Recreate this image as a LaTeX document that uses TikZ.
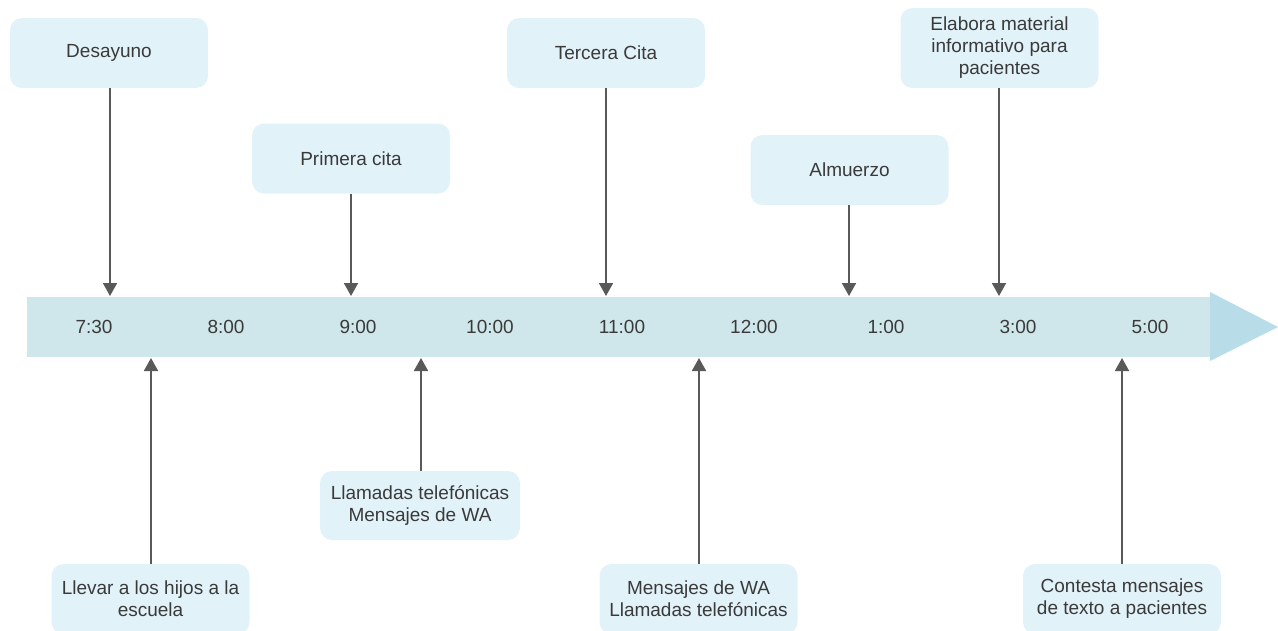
\documentclass[tikz,border=0pt]{standalone}
\usepackage{fontspec}
\setmainfont{Liberation Sans}
\usetikzlibrary{arrows.meta}
\definecolor{barcol}{HTML}{CFE7EA}
\definecolor{headcol}{HTML}{B8DDE8}
\definecolor{boxcol}{HTML}{E2F2F9}
\definecolor{txtcol}{HTML}{3A3A3A}
\definecolor{linecol}{HTML}{595959}
\tikzset{
  event/.style={rounded corners=12pt, fill=boxcol, text=txtcol, align=center,
    minimum width=198pt, minimum height=70pt, inner sep=0pt,
    font=\fontsize{19}{22}\selectfont},
  hour/.style={text=txtcol, font=\fontsize{19}{22}\selectfont},
  link/.style={draw=linecol, line width=1.8pt, -{Triangle[length=13pt,width=14pt]}}
}

\begin{document}
\begin{tikzpicture}[x=1pt,y=-1pt]
        \useasboundingbox (0,0) rectangle (1278,630);
        % bar
        \fill[barcol] (27,297) rectangle (1210,357);
        \fill[headcol] (1210,292) -- (1278,327) -- (1210,361) -- cycle;
        % hours
        \foreach \t [count=\i from 0] in {7:30,8:00,9:00,10:00,11:00,12:00,1:00,3:00,5:00}
            \node[hour] (h\i) at (94+132*\i,327) {\t};
        % top events
        \node[event] (desayuno) at (109,53) {Desayuno};
        \node[event] (primera) at (351,158.5) {Primera cita};
        \node[event] (tercera) at (606,53) {Tercera Cita};
        \node[event] (almuerzo) at (849.5,170) {Almuerzo};
        \node[event, minimum height=80pt] (elabora) at (999.5,48) {Elabora material\\informativo para\\pacientes};
        % bottom events
        \node[event] (llevar) at (150.5,599) {Llevar a los hijos a la\\escuela};
        \node[event, minimum width=200pt, minimum height=69pt] (llamadas) at (420,505.5) {Llamadas telefónicas\\Mensajes de WA};
        \node[event] (mensajes) at (698.5,599) {Mensajes de WA\\Llamadas telefónicas};
        \node[event] (contesta) at (1122,599) {Contesta mensajes\\de texto a pacientes};
        % points on the bar
        \coordinate (pdesayuno) at (110,296);
        \coordinate (pprimera) at (351,296);
        \coordinate (ptercera) at (606,296);
        \coordinate (palmuerzo) at (849,296);
        \coordinate (pelabora) at (999,296);
        \coordinate (pllevar) at (151,358);
        \coordinate (pllamadas) at (421,358);
        \coordinate (pmensajes) at (699,358);
        \coordinate (pcontesta) at (1122,358);
        % links
        \draw[link] (desayuno.south -| pdesayuno) -- (pdesayuno);
        \draw[link] (primera.south) -- (pprimera);
        \draw[link] (tercera.south) -- (ptercera);
        \draw[link] (almuerzo.south -| palmuerzo) -- (palmuerzo);
        \draw[link] (elabora.south -| pelabora) -- (pelabora);
        \draw[link] (llevar.north -| pllevar) -- (pllevar);
        \draw[link] (llamadas.north -| pllamadas) -- (pllamadas);
        \draw[link] (mensajes.north -| pmensajes) -- (pmensajes);
        \draw[link] (contesta.north) -- (pcontesta);
    \end{tikzpicture}
\end{document}
